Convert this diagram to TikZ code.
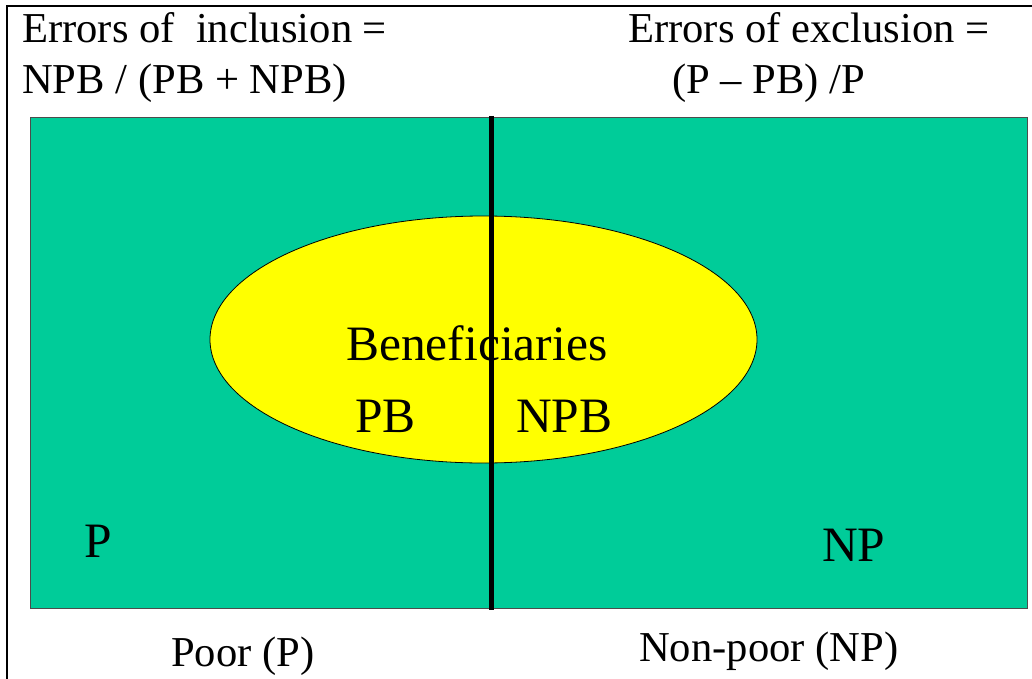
\documentclass[tikz,border=0pt]{standalone}
\usepackage{fontspec}
\setmainfont{Liberation Serif}
\usetikzlibrary{shapes.geometric}
\definecolor{regteal}{HTML}{00CC99}
\definecolor{yel}{HTML}{FFFF00}
\begin{document}
\begin{tikzpicture}[x=1pt,y=-1pt,
  lbl/.style={anchor=base west,inner sep=0pt,font=\fontsize{42.6}{48}\selectfont},
  big/.style={anchor=base west,inner sep=0pt,font=\fontsize{49.5}{56}\selectfont}]
\useasboundingbox (0,0) rectangle (1032,679);
% outer frame
\coordinate (fb) at (7,679);
\coordinate (fc) at (7,6);
\coordinate (fr) at (1032,6);
\draw[line width=2.5pt] (fb) -- (fc) -- (fr);
% region
\node[draw=black!70,line width=0.8pt,fill=regteal,minimum width=997pt,minimum height=491pt,inner sep=0pt,anchor=north west] (reg) at (30,117) {};
\node[draw=black,line width=0.8pt,fill=yel,ellipse,minimum width=547pt,minimum height=247pt,inner sep=0pt] (ben) at (483.5,339.5) {};
\coordinate (vt) at (491,116);
\coordinate (vb) at (491,610);
\draw[line width=5pt] (vt) -- (vb);
% texts
\node[lbl] (t1) at (22,43) {Errors of\ \ inclusion =};
\node[lbl] (t2) at (22,94) {NPB / (PB + NPB)};
\node[lbl] (t3) at (628,43) {Errors of exclusion =};
\node[lbl] (t4) at (672,94) {(P – PB) /P};
\node[big] (b1) at (346,360) {Beneficiaries};
\node[big] (b2) at (355,432) {PB};
\node[big] (b3) at (516,432) {NPB};
\node[big] (p) at (84,557) {P};
\node[big] (np) at (822,561) {NP};
\node[lbl] (poor) at (171,666) {Poor (P)};
\node[lbl] (nonpoor) at (639,661) {Non-poor (NP)};
\end{tikzpicture}
\end{document}
